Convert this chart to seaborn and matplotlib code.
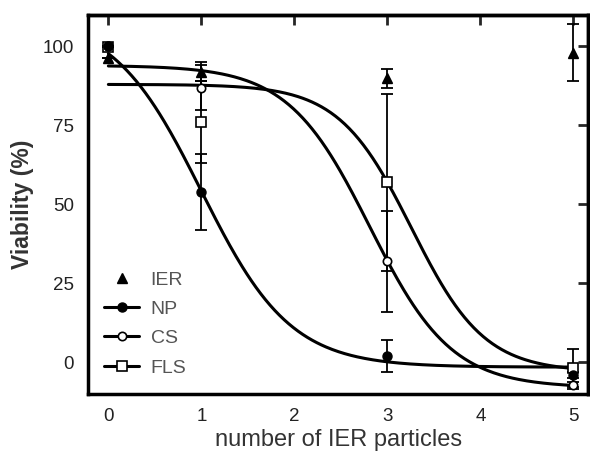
import numpy as np
import pandas as pd
import matplotlib
matplotlib.use("Agg")
import matplotlib.pyplot as plt
import seaborn as sns
from matplotlib.lines import Line2D

sns.set_theme(style="white")
plt.rcParams['font.family'] = ['Liberation Sans', 'DejaVu Sans']

# ---- data ----
x_doses = [0, 1, 3, 5]
ier_mean = [96.5, 92, 90, 98]
ier_err = [0, 3, 3, 9]
np_mean = [100, 54, 2, -4]
np_err = [0, 12, 5, 1]
cs_mean = [100, 87, 32, -7.3]
cs_err = [0, 7, 16, 1]
fls_mean = [99.7, 76, 57, -1.9]
fls_err = [0, 13, 28, 6]

# fitted sigmoid parameters (top, bottom, x50, slope)
np_fit = (110.0, -1.5, 1.0, 2.09)
cs_fit = (94.0, -8.0, 2.81, 2.27)
fls_fit = (88.0, -3.0, 3.26, 2.55)

series_names = ["IER", "NP", "CS", "FLS"]
xticks = [0, 1, 2, 3, 4, 5]
yticks = [0, 25, 50, 75, 100]


def sigmoid(x, p):
    top, bottom, x50, k = p
    return bottom + (top - bottom) / (1 + np.exp(k * (x - x50)))


xs = np.linspace(0, 5, 300)
curve_df = pd.concat([
    pd.DataFrame({"x": xs, "y": sigmoid(xs, p), "series": n})
    for n, p in [("NP", np_fit), ("CS", cs_fit), ("FLS", fls_fit)]
])

fig = plt.figure(figsize=(5.9, 4.59), dpi=100)
ax = fig.add_axes([0.149, 0.1416, 0.848, 0.826])

sns.lineplot(data=curve_df, x="x", y="y", units="series", estimator=None,
             color="black", linewidth=2.2, ax=ax, legend=False)

styles = {
    "IER": dict(marker="^", ms=7, mfc="black", mec="black", mew=1.0),
    "NP": dict(marker="o", ms=6.5, mfc="black", mec="black", mew=1.0),
    "CS": dict(marker="o", ms=6, mfc="white", mec="black", mew=1.2),
    "FLS": dict(marker="s", ms=7.5, mfc="white", mec="black", mew=1.2),
}
data = {"IER": (ier_mean, ier_err), "NP": (np_mean, np_err),
        "CS": (cs_mean, cs_err), "FLS": (fls_mean, fls_err)}

for name in ["FLS", "CS", "NP", "IER"]:
    m, e = data[name]
    ax.errorbar(x_doses, m, yerr=e, fmt="none", ecolor="black",
                elinewidth=1.3, capsize=4.5, capthick=1.3, zorder=3)
    ax.plot(x_doses, m, linestyle="none", zorder=4, **styles[name])

ax.set_xlim(-0.22, 5.16)
ax.set_ylim(-10, 110)
ax.set_xticks(xticks)
ax.set_yticks(yticks)
ax.tick_params(axis="both", direction="out", length=7, width=2,
               color="black", labelsize=13.5, labelcolor="#222222", pad=3)
for s in ax.spines.values():
    s.set_linewidth(2.5)
    s.set_color("black")

secx = ax.secondary_xaxis("top")
secx.set_xticks(xticks)
secx.tick_params(direction="in", length=7, width=2, labeltop=False)
secx.spines["top"].set_linewidth(2.5)
secy = ax.secondary_yaxis("right")
secy.set_yticks(yticks)
secy.tick_params(direction="in", length=7, width=2, labelright=False)
secy.spines["right"].set_linewidth(2.5)

ax.set_xlabel("number of IER particles", fontsize=17, color="#333333",
              labelpad=3)
ax.set_ylabel("Viability (%)", fontsize=16.5, fontweight="bold",
              color="#333333", labelpad=6)

handles = [
    Line2D([], [], linestyle="none", color="black", **styles["IER"]),
    Line2D([], [], color="black", lw=2.2, **styles["NP"]),
    Line2D([], [], color="black", lw=2.2, **styles["CS"]),
    Line2D([], [], color="black", lw=2.2, **styles["FLS"]),
]
leg = ax.legend(handles, series_names, loc="upper left",
                bbox_to_anchor=(0.005, 0.36), frameon=False, fontsize=14,
                handlelength=1.8, handletextpad=0.6, labelspacing=0.6,
                borderaxespad=0.3)
for t in leg.get_texts():
    t.set_color("#555555")

fig.savefig("out.png", dpi=100)
